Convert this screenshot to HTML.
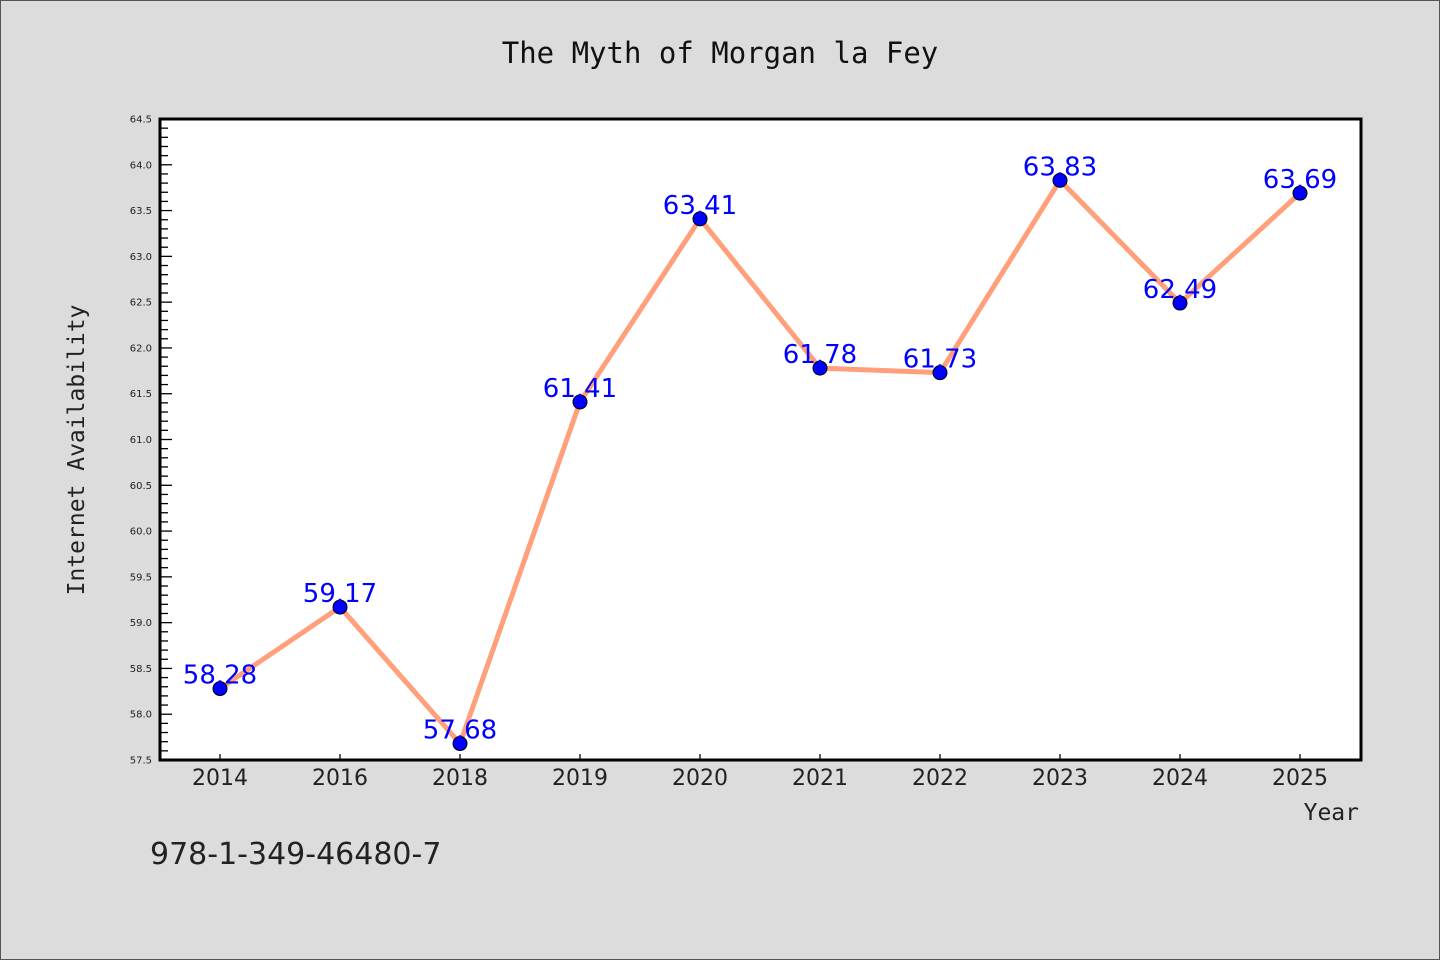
<!DOCTYPE html>
<html><head><meta charset="utf-8"><style>
html,body{margin:0;padding:0;background:#dcdcdc;}
svg{display:block;}
</style></head><body>
<svg id="chart" width="1440" height="960" xmlns="http://www.w3.org/2000/svg">
<rect x="0.5" y="0.5" width="1439" height="959" fill="#dcdcdc" stroke="#555" stroke-width="1"/>
<text x="720" y="63" text-anchor="middle" font-family="'DejaVu Sans Mono','Liberation Mono',monospace" font-size="29" fill="#111">The Myth of Morgan la Fey</text>
<rect x="160" y="119" width="1201" height="641" fill="#fff"/>
<g id="yaxis"></g>
<g id="xaxis"></g>
<g id="series"></g>
<rect x="160" y="119" width="1201" height="641" fill="none" stroke="#000" stroke-width="3"/>
<text transform="translate(84,450) rotate(-90)" text-anchor="middle" font-family="'DejaVu Sans Mono','Liberation Mono',monospace" font-size="23" fill="#222">Internet Availability</text>
<text x="1359" y="820" text-anchor="end" font-family="'DejaVu Sans Mono','Liberation Mono',monospace" font-size="23" fill="#222">Year</text>
<text x="150" y="864" font-family="'DejaVu Sans','Liberation Sans',sans-serif" font-size="30" fill="#222">978-1-349-46480-7</text>
</svg>
<script>
const categories = ["2014","2016","2018","2019","2020","2021","2022","2023","2024","2025"];
const values = [58.28,59.17,57.68,61.41,63.41,61.78,61.73,63.83,62.49,63.69];
const valueLabels = ["58.28","59.17","57.68","61.41","63.41","61.78","61.73","63.83","62.49","63.69"];
const yTickLabels = ["57.5","58.0","58.5","59.0","59.5","60.0","60.5","61.0","61.5","62.0","62.5","63.0","63.5","64.0","64.5"];
const yMin = 57.5, yMax = 64.5;
const L=160,R=1361,T=119,B=760;
const NS="http://www.w3.org/2000/svg";
function y(v){return B-(v-yMin)/(yMax-yMin)*(B-T);}
function x(i){return L+60+i*120;}
function mk(tag,attrs,parent){const e=document.createElementNS(NS,tag);for(const k in attrs)e.setAttribute(k,attrs[k]);parent.appendChild(e);return e;}
const ya=document.getElementById('yaxis'),xa=document.getElementById('xaxis'),sg=document.getElementById('series');
for(let k=0;k<=Math.round((yMax-yMin)*10);k++){
  const v=yMin+k/10, yy=y(v), major=k%5===0;
  const t=mk('line',{x1:L,x2:L+(major?12:8),y1:yy,y2:yy,stroke:'#000','stroke-width':1.3},ya);
  
  
}
yTickLabels.forEach(s=>{
  const t=mk('text',{x:L-8,y:y(parseFloat(s))+3.5,'text-anchor':'end','font-family':"'DejaVu Sans','Liberation Sans',sans-serif",'font-size':10,fill:'#222'},ya);
  t.textContent=s;
  
  
});
categories.forEach((c,i)=>{
  const t=mk('line',{x1:x(i),x2:x(i),y1:B,y2:B-6,stroke:'#000','stroke-width':1.3},xa);
  
  
  const l=mk('text',{x:x(i),y:B+25,'text-anchor':'middle','font-family':"'DejaVu Sans','Liberation Sans',sans-serif",'font-size':22,fill:'#222'},xa);
  l.textContent=c;
  
  
});
const line=mk('polyline',{points:values.map((v,i)=>x(i)+','+y(v)).join(' '),fill:'none',stroke:'#ffa07a','stroke-width':5,'stroke-linejoin':'round'},sg);


values.forEach((v,i)=>{
  const p=mk('circle',{cx:x(i),cy:y(v),r:7,fill:'#0000ff',stroke:'#000','stroke-width':1},sg);
  
  
});
values.forEach((v,i)=>{
  const t=mk('text',{x:x(i),y:y(v)-5,'text-anchor':'middle','font-family':"'DejaVu Sans','Liberation Sans',sans-serif",'font-size':26,fill:'#0000ff'},sg);
  t.textContent=valueLabels[i];
  
  
});
</script>
</body></html>
